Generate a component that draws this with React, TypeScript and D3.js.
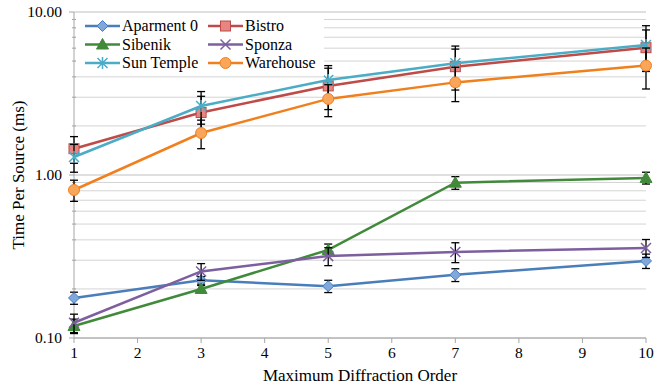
import React from "react";
import * as d3 from "d3";

const orders = [1, 3, 5, 7, 10];
const seriesNames = ["Aparment 0", "Bistro", "Sibenik", "Sponza", "Sun Temple", "Warehouse"];
const apartment = [0.176, 0.226, 0.208, 0.244, 0.297];
const bistro = [1.45, 2.42, 3.52, 4.62, 6.04];
const sibenik = [0.1185, 0.2, 0.347, 0.897, 0.96];
const sponza = [0.124, 0.256, 0.318, 0.337, 0.357];
const sunTemple = [1.29, 2.65, 3.83, 4.85, 6.28];
const warehouse = [0.809, 1.81, 2.93, 3.7, 4.69];
const apartmentErr = [0.015, 0.012, 0.018, 0.022, 0.03];
const bistroErr = [0.27, 0.62, 1.0, 1.3, 1.72];
const sibenikErr = [0.012, 0.01, 0.03, 0.08, 0.08];
const sponzaErr = [0.016, 0.03, 0.04, 0.047, 0.045];
const sunTempleErr = [0.25, 0.6, 0.86, 1.33, 1.96];
const warehouseErr = [0.12, 0.36, 0.65, 0.88, 1.32];
const xTicks = [1, 2, 3, 4, 5, 6, 7, 8, 9, 10];
const yMajor = [0.1, 1, 10];
const yLabels = ["0.10", "1.00", "10.00"];

const styles = [
  { line: "#4A7EBB", fill: "#7FA9DD", stroke: "#4A7EBB", marker: "diamond" },
  { line: "#BE4B48", fill: "#E58682", stroke: "#BE4B48", marker: "square" },
  { line: "#408A3A", fill: "#408A3A", stroke: "#408A3A", marker: "triangle" },
  { line: "#7D5FA0", fill: "none", stroke: "#7D5FA0", marker: "x" },
  { line: "#4BACC6", fill: "none", stroke: "#4BACC6", marker: "star" },
  { line: "#F0801E", fill: "#F9A55A", stroke: "#F0801E", marker: "circle" },
];

const values = [apartment, bistro, sibenik, sponza, sunTemple, warehouse];
const errs = [apartmentErr, bistroErr, sibenikErr, sponzaErr, sunTempleErr, warehouseErr];

const FONT = "Liberation Serif, DejaVu Serif, serif";

function Marker({ kind, x, y, s }: { kind: string; x: number; y: number; s: any }) {
  if (kind === "diamond")
    return <path d={`M${x},${y - 5.5}L${x + 5.5},${y}L${x},${y + 5.5}L${x - 5.5},${y}Z`} fill={s.fill} stroke={s.stroke} strokeWidth={1} />;
  if (kind === "square")
    return <rect x={x - 5} y={y - 5} width={10} height={10} fill={s.fill} stroke={s.stroke} strokeWidth={1} />;
  if (kind === "triangle")
    return <path d={`M${x},${y - 6}L${x + 6},${y + 4.5}L${x - 6},${y + 4.5}Z`} fill={s.fill} stroke={s.stroke} strokeWidth={1} />;
  if (kind === "x")
    return <path d={`M${x - 5},${y - 5}L${x + 5},${y + 5}M${x - 5},${y + 5}L${x + 5},${y - 5}`} stroke={s.stroke} strokeWidth={1.5} />;
  if (kind === "star")
    return <path d={`M${x - 5},${y - 5}L${x + 5},${y + 5}M${x - 5},${y + 5}L${x + 5},${y - 5}M${x},${y - 6}L${x},${y + 6}`} stroke={s.stroke} strokeWidth={1.5} />;
  return <circle cx={x} cy={y} r={5.5} fill={s.fill} stroke={s.stroke} strokeWidth={1} />;
}

export default function App() {
  const W = 666, H = 389;
  const x = d3.scaleLinear().domain([1, 10]).range([74, 646]);
  const y = d3.scaleLog().domain([0.1, 10]).range([338, 12]);
  const minor: number[] = [];
  for (const base of [0.1, 1]) for (let k = 2; k <= 9; k++) minor.push(base * k);
  const line = d3.line<[number, number]>().x((d) => x(d[0])).y((d) => y(d[1]));
  const ts = { fontFamily: FONT };
  return (
    <svg width={W} height={H} style={{ position: "absolute", left: 0, top: 0, background: "#fff", fontFamily: FONT }}>
      {minor.map((v) => (
        <line key={"m" + v} x1={x(1)} x2={x(10)} y1={y(v)} y2={y(v)} stroke="#d4d4d4" strokeWidth={1} />
      ))}
      {yMajor.map((v) => (
        <line key={"M" + v} x1={x(1)} x2={x(10)} y1={y(v)} y2={y(v)} stroke="#bfbfbf" strokeWidth={1.2} />
      ))}
      <line x1={x(1)} x2={x(1)} y1={y(10)} y2={y(0.1)} stroke="#a6a6a6" strokeWidth={1} />
      <line x1={x(1)} x2={x(10)} y1={y(0.1)} y2={y(0.1)} stroke="#a6a6a6" strokeWidth={1} />
      {yMajor.map((v) => (
        <line key={"yt" + v} x1={x(1) - 5} x2={x(1)} y1={y(v)} y2={y(v)} stroke="#a6a6a6" />
      ))}
      {minor.map((v) => (
        <line key={"ymt" + v} x1={x(1) - 2} x2={x(1) + 2} y1={y(v)} y2={y(v)} stroke="#a6a6a6" />
      ))}
      {xTicks.map((t) => (
        <line key={"xt" + t} x1={x(t)} x2={x(t)} y1={y(0.1)} y2={y(0.1) + 5} stroke="#a6a6a6" />
      ))}
      {yMajor.map((v, i) => (
        <text key={"yl" + v} style={ts} x={62} y={y(v) + 5} textAnchor="end" fontSize={15.5} fill="#000">{yLabels[i]}</text>
      ))}
      {xTicks.map((t) => (
        <text key={"xl" + t} style={ts} x={x(t)} y={358} textAnchor="middle" fontSize={15.5} fill="#000">{t}</text>
      ))}
      <text style={ts} x={x(5.5)} y={381} textAnchor="middle" fontSize={17} fill="#000">Maximum Diffraction Order</text>
      <text style={ts} transform={`translate(24,${y(1)}) rotate(-90)`} textAnchor="middle" fontSize={17} fill="#000">Time Per Source (ms)</text>

      {values.map((vals, si) => {
        const s = styles[si];
        const pts = orders.map((o, i) => [o, vals[i]] as [number, number]);
        return (
          <g key={"s" + si}>
            <path d={line(pts) || ""} fill="none" stroke={s.line} strokeWidth={2.5} />
            {orders.map((o, i) => {
              const e = errs[si][i];
              const cx = x(o);
              const top = y(vals[i] + e);
              const bot = y(Math.max(vals[i] - e, 0.1001));
              return (
                <g key={"e" + i} stroke="#000" strokeWidth={1.3}>
                  <line x1={cx} x2={cx} y1={top} y2={bot} />
                  <line x1={cx - 4} x2={cx + 4} y1={top} y2={top} />
                  <line x1={cx - 4} x2={cx + 4} y1={bot} y2={bot} />
                </g>
              );
            })}
            {orders.map((o, i) => (
              <Marker key={"mk" + i} kind={s.marker} x={x(o)} y={y(vals[i])} s={s} />
            ))}
          </g>
        );
      })}

      <rect x={76} y={13} width={248} height={63} fill="#fff" />
      {seriesNames.map((n, i) => {
        const col = i % 2, row = Math.floor(i / 2);
        const lx = col === 0 ? 85 : 208;
        const ly = 26 + row * 18.5;
        const s = styles[i];
        return (
          <g key={"lg" + i}>
            <line x1={lx} x2={lx + 35} y1={ly} y2={ly} stroke={s.line} strokeWidth={2.5} />
            <Marker kind={s.marker} x={lx + 17.5} y={ly} s={s} />
            <text style={ts} x={lx + 37} y={ly + 5} fontSize={16} fill="#000">{n}</text>
          </g>
        );
      })}
    </svg>
  );
}
